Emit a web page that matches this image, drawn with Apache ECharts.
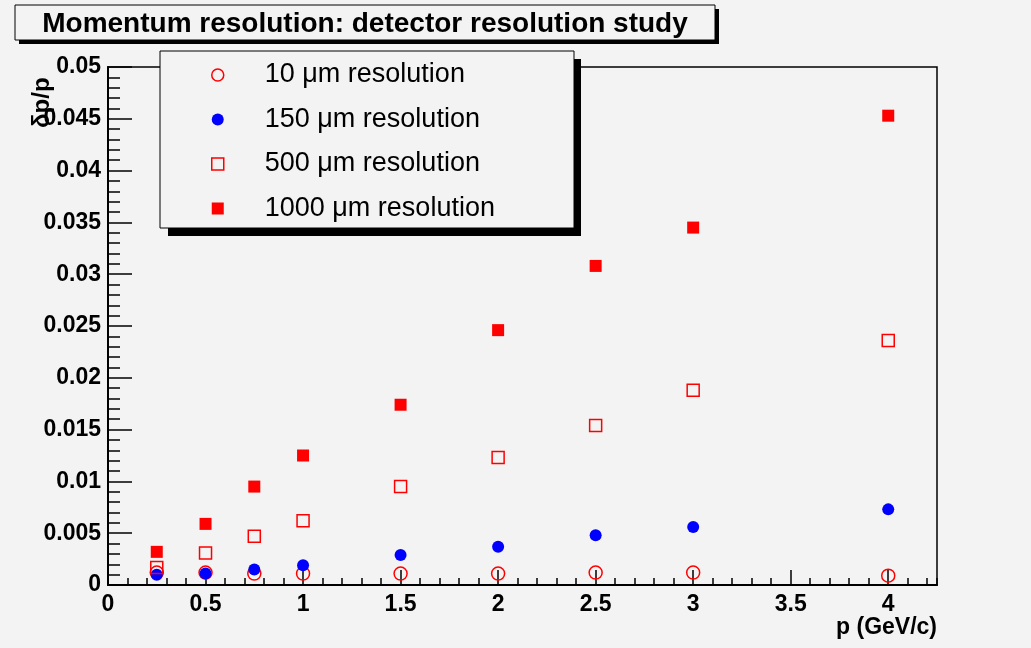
<!DOCTYPE html>
<html>
<head>
<meta charset="utf-8">
<title>Momentum resolution</title>
<script src="https://cdn.jsdelivr.net/npm/echarts@6/dist/echarts.min.js"></script>
<style>
  html, body { margin: 0; padding: 0; background: #f3f3f3; }
  #chart { width: 1031px; height: 648px; }
</style>
</head>
<body>
<div id="chart"></div>
<script>
// momentum points (GeV/c)
var pValues = [0.25, 0.5, 0.75, 1, 1.5, 2, 2.5, 3, 4];
// dp/p for each detector resolution
var res10 = [0.0012, 0.0012, 0.0011, 0.0011, 0.0011, 0.0011, 0.0012, 0.0012, 0.0009];
var res150 = [0.0010, 0.0011, 0.0015, 0.0019, 0.0029, 0.0037, 0.0048, 0.0056, 0.0073];
var res500 = [0.0017, 0.0031, 0.0047, 0.0062, 0.0095, 0.0123, 0.0154, 0.0188, 0.0236];
var res1000 = [0.0032, 0.0059, 0.0095, 0.0125, 0.0174, 0.0246, 0.0308, 0.0345, 0.0453];
var seriesNames = ['10 \u03bcm resolution', '150 \u03bcm resolution', '500 \u03bcm resolution', '1000 \u03bcm resolution'];

var font = "'Liberation Sans', Arial, sans-serif";

function pairs(ys) {
  var out = [];
  for (var i = 0; i < pValues.length; i++) {
    out.push([pValues[i], ys[i]]);
  }
  return out;
}

var myChart = echarts.init(document.getElementById('chart'));

var openCircle = { color: 'rgba(0,0,0,0)', borderColor: '#ff0000', borderWidth: 1.5, opacity: 1 };
var fullCircle = { color: '#0000ff', borderWidth: 0, opacity: 1 };
var openSquare = { color: 'rgba(0,0,0,0)', borderColor: '#ff0000', borderWidth: 1.5, opacity: 1 };
var fullSquare = { color: '#ff0000', borderWidth: 0, opacity: 1 };

var option = {
  backgroundColor: '#f3f3f3',
  animation: false,
  grid: {
    left: 108,
    right: 94,
    top: 67,
    bottom: 63,
    show: true,
    borderColor: '#000',
    borderWidth: 1.5,
    backgroundColor: 'rgba(0,0,0,0)'
  },
  xAxis: [{
    type: 'value',
    min: 0,
    max: 4.25,
    interval: 0.5,
    axisLine: { onZero: false, lineStyle: { color: '#000', width: 2 } },
    axisTick: { inside: true, length: 15, lineStyle: { color: '#000', width: 1.5 } },
    axisLabel: { color: '#000', fontFamily: font, fontWeight: 'bold', fontSize: 23, margin: 8, showMaxLabel: false },
    splitLine: { show: false }
  }, {
    // small ticks every 0.1
    type: 'value',
    position: 'bottom',
    min: 0,
    max: 4.25,
    interval: 0.1,
    axisLine: { show: false },
    axisTick: { inside: true, length: 7, lineStyle: { color: '#000', width: 1.5 } },
    axisLabel: { show: false },
    splitLine: { show: false }
  }],
  yAxis: {
    type: 'value',
    min: 0,
    max: 0.05,
    interval: 0.005,
    axisLine: { onZero: false, lineStyle: { color: '#000', width: 2 } },
    axisTick: { inside: true, length: 24, lineStyle: { color: '#000', width: 1.5 } },
    minorTick: { show: true, splitNumber: 5, length: 12, lineStyle: { color: '#000', width: 1.5 } },
    axisLabel: { color: '#000', fontFamily: font, fontWeight: 'bold', fontSize: 23, margin: 7 },
    splitLine: { show: false }
  },
  legend: {
    orient: 'vertical',
    left: 206,
    top: 55,
    itemWidth: 12,
    itemHeight: 12,
    itemGap: 14.5,
    selectedMode: false,
    textStyle: { color: '#000', fontFamily: font, fontSize: 27, lineHeight: 30, padding: [0, 0, 0, 36] },
    data: [
      { name: seriesNames[0], icon: 'circle', itemStyle: openCircle },
      { name: seriesNames[1], icon: 'circle', itemStyle: fullCircle },
      { name: seriesNames[2], icon: 'rect', itemStyle: openSquare },
      { name: seriesNames[3], icon: 'rect', itemStyle: fullSquare }
    ]
  },
  graphic: [
    // title box with shadow
    { type: 'rect', shape: { x: 19, y: 9, width: 700, height: 35 }, style: { fill: '#000' }, z: 10 },
    { type: 'rect', shape: { x: 15, y: 5, width: 700, height: 35 }, style: { fill: '#f3f3f3', stroke: '#000', lineWidth: 1 }, z: 11 },
    { type: 'text', x: 365, y: 24, z: 12,
      style: { text: 'Momentum resolution: detector resolution study', font: 'bold 28px ' + font, fill: '#000', textAlign: 'center', textVerticalAlign: 'middle' } },
    // legend box with shadow
    { type: 'rect', shape: { x: 168, y: 59, width: 413, height: 177 }, style: { fill: '#000' }, z: 1 },
    { type: 'rect', shape: { x: 160, y: 51, width: 414, height: 177 }, style: { fill: '#f3f3f3', stroke: '#000', lineWidth: 1 }, z: 2 },
    // axis titles
    { type: 'text', x: 30, y: 128, rotation: Math.PI / 2, z: 12,
      style: { text: '\u03b4p/p', font: 'bold 24px ' + font, fill: '#000', textAlign: 'left', textVerticalAlign: 'top' } },
    { type: 'text', x: 937, y: 628, z: 12,
      style: { text: 'p (GeV/c)', font: 'bold 23px ' + font, fill: '#000', textAlign: 'right', textVerticalAlign: 'middle' } }
  ],
  series: [{
    name: seriesNames[0],
    type: 'scatter',
    symbol: 'circle',
    symbolSize: 13,
    itemStyle: openCircle,
    data: pairs(res10),
    z: 3
  }, {
    name: seriesNames[1],
    type: 'scatter',
    symbol: 'circle',
    symbolSize: 12,
    itemStyle: fullCircle,
    data: pairs(res150),
    z: 4
  }, {
    name: seriesNames[2],
    type: 'scatter',
    symbol: 'rect',
    symbolSize: 12,
    itemStyle: openSquare,
    data: pairs(res500),
    z: 5
  }, {
    name: seriesNames[3],
    type: 'scatter',
    symbol: 'rect',
    symbolSize: 12,
    itemStyle: fullSquare,
    data: pairs(res1000),
    z: 6
  }]
};

myChart.setOption(option);
</script>
</body>
</html>
